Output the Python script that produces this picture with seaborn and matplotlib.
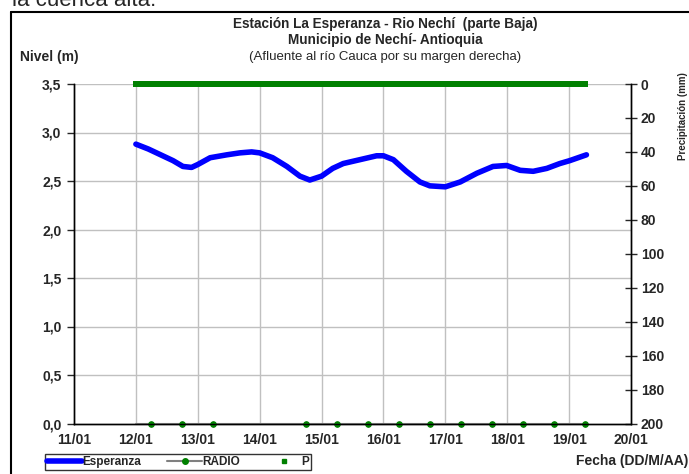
import numpy as np
import pandas as pd
import seaborn as sns
import matplotlib.pyplot as plt
import matplotlib.dates as mdates
from matplotlib.lines import Line2D

sns.set_style("white")
plt.rcParams["font.family"] = ["Liberation Sans", "DejaVu Sans"]

# ===================== DATA =====================
base = pd.Timestamp("2012-01-11")

# nivel Esperanza (dias desde 11/01, metros)
esp_dias = [1.00, 1.20, 1.40, 1.60, 1.76, 1.90, 2.00, 2.20, 2.47, 2.68, 2.87, 3.00,
            3.21, 3.44, 3.65, 3.81, 4.00, 4.18, 4.35, 4.62, 4.89, 5.00, 5.16, 5.37,
            5.59, 5.75, 6.00, 6.24, 6.51, 6.77, 6.99, 7.21, 7.42, 7.64, 7.85, 8.01, 8.28]
esp_nivel = [2.88, 2.83, 2.77, 2.71, 2.65, 2.64, 2.67, 2.74, 2.77, 2.79, 2.80, 2.79,
             2.74, 2.65, 2.55, 2.51, 2.55, 2.63, 2.68, 2.72, 2.76, 2.76, 2.72, 2.60,
             2.49, 2.45, 2.44, 2.49, 2.58, 2.65, 2.66, 2.61, 2.60, 2.63, 2.68, 2.71, 2.77]

# RADIO (lecturas 6:00 y 18:00)
radio_dias = [1.00, 1.25, 1.75, 2.25, 3.75, 4.25, 4.75, 5.25, 5.75, 6.25, 6.75, 7.25, 7.75, 8.25]
radio_nivel = [0.0] * len(radio_dias)

# precipitacion horaria (mm)
p_fechas = pd.date_range("2012-01-12 00:00", "2012-01-19 06:00", freq="h")
p_mm = [0.0] * len(p_fechas)

xticks = pd.date_range("2012-01-11", "2012-01-20", freq="D")
nivel_ticks = np.arange(0, 3.51, 0.5)
p_ticks = np.arange(0, 201, 20)

esp = pd.DataFrame({"fecha": base + pd.to_timedelta(esp_dias, unit="D"), "nivel": esp_nivel})
radio = pd.DataFrame({"fecha": base + pd.to_timedelta(radio_dias, unit="D"), "nivel": radio_nivel})
prec = pd.DataFrame({"fecha": p_fechas, "mm": p_mm})

# ===================== FIGURE =====================
fig = plt.figure(figsize=(6.89, 4.74), dpi=100)
ax = fig.add_axes([74 / 689, 1 - 423.5 / 474, 557 / 689, 339.5 / 474])
ax2 = ax.twinx()

grid_c = "#c0c0c0"
for t in xticks[1:-1]:
    ax.axvline(t, color=grid_c, lw=1, zorder=0)
for v in nivel_ticks[1:]:
    ax.axhline(v, color=grid_c, lw=1, zorder=0)

sns.lineplot(data=radio, x="fecha", y="nivel", ax=ax, color="#808080", lw=1.5,
             marker="o", markersize=4, markerfacecolor="green", markeredgecolor="green",
             markevery=list(range(1, len(radio))), clip_on=False, zorder=4)
sns.lineplot(data=esp, x="fecha", y="nivel", ax=ax, color="blue", lw=4, zorder=5)
sns.scatterplot(data=prec, x="fecha", y="mm", ax=ax2, color="green", marker="s",
                s=14, linewidth=0, clip_on=False, zorder=5)

ax.set_xlim(xticks[0], xticks[-1])
ax.set_ylim(0, 3.5)
ax2.set_ylim(200, 0)
ax.set_xticks(xticks)
ax.xaxis.set_major_formatter(mdates.DateFormatter("%d/%m"))
ax.set_yticks(nivel_ticks)
ax.set_yticklabels([f"{v:.1f}".replace(".", ",") for v in nivel_ticks])
ax2.set_yticks(p_ticks)

ax.set_xlabel("")
ax.set_ylabel("")
ax2.set_ylabel("")

for a in (ax, ax2):
    for s in a.spines.values():
        s.set_color("black")
        s.set_linewidth(1)
    a.spines["top"].set_visible(False)
ax.tick_params(axis="y", direction="out", length=5, width=1, labelsize=10, pad=4)
ax.tick_params(axis="x", direction="inout", length=8, width=1, labelsize=10, pad=3)
ax2.tick_params(axis="y", direction="inout", length=8, width=1, labelsize=10, pad=3)
for lab in ax.get_xticklabels() + ax.get_yticklabels() + ax2.get_yticklabels():
    lab.set_fontweight("bold")

# ===================== TEXTS =====================
fig.text(385 / 689, 1 - 24 / 474, "Estación La Esperanza - Rio Nechí  (parte Baja)",
         ha="center", va="center", fontsize=9.8, fontweight="bold")
fig.text(385 / 689, 1 - 40 / 474, "Municipio de Nechí- Antioquia",
         ha="center", va="center", fontsize=9.8, fontweight="bold")
fig.text(385 / 689, 1 - 57 / 474, "(Afluente al río Cauca por su margen derecha)",
         ha="center", va="center", fontsize=9.5)
fig.text(20 / 689, 1 - 57 / 474, "Nivel (m)", ha="left", va="center",
         fontsize=10, fontweight="bold")
fig.text(688 / 689, 1 - 461 / 474, "Fecha (DD/M/AA)", ha="right", va="center",
         fontsize=10, fontweight="bold")
fig.text(683 / 689, 1 - 72 / 474, "Precipitación (mm)", ha="center", va="top",
         rotation=90, fontsize=7, fontweight="bold")
fig.text(12 / 689, 1 - 6 / 474, "la cuenca alta.", ha="left", va="baseline", fontsize=16)

# marco exterior
fig.add_artist(Line2D([11 / 689, 11 / 689], [0, 1 - 12 / 474], color="black", lw=1.5))
fig.add_artist(Line2D([11 / 689, 1], [1 - 12 / 474, 1 - 12 / 474], color="black", lw=1.5))

# ===================== LEGEND =====================
handles = [
    Line2D([], [], color="blue", lw=4),
    Line2D([], [], color="#808080", lw=1.5, marker="o", markersize=4,
           markerfacecolor="green", markeredgecolor="green"),
    Line2D([], [], color="green", lw=0, marker="s", markersize=3.5),
]
leg = fig.legend(handles, ["Esperanza", "RADIO", "P"], ncol=3,
                 loc="lower left", bbox_to_anchor=(45 / 689, 1 - 470 / 474),
                 prop={"size": 8.5, "weight": "bold"}, frameon=True, fancybox=False,
                 borderpad=0.15, handlelength=3, handletextpad=0.0, columnspacing=2.2,
                 borderaxespad=0)
leg.get_frame().set_edgecolor("black")
leg.get_frame().set_linewidth(1)

plt.savefig("out.png", dpi=100)
